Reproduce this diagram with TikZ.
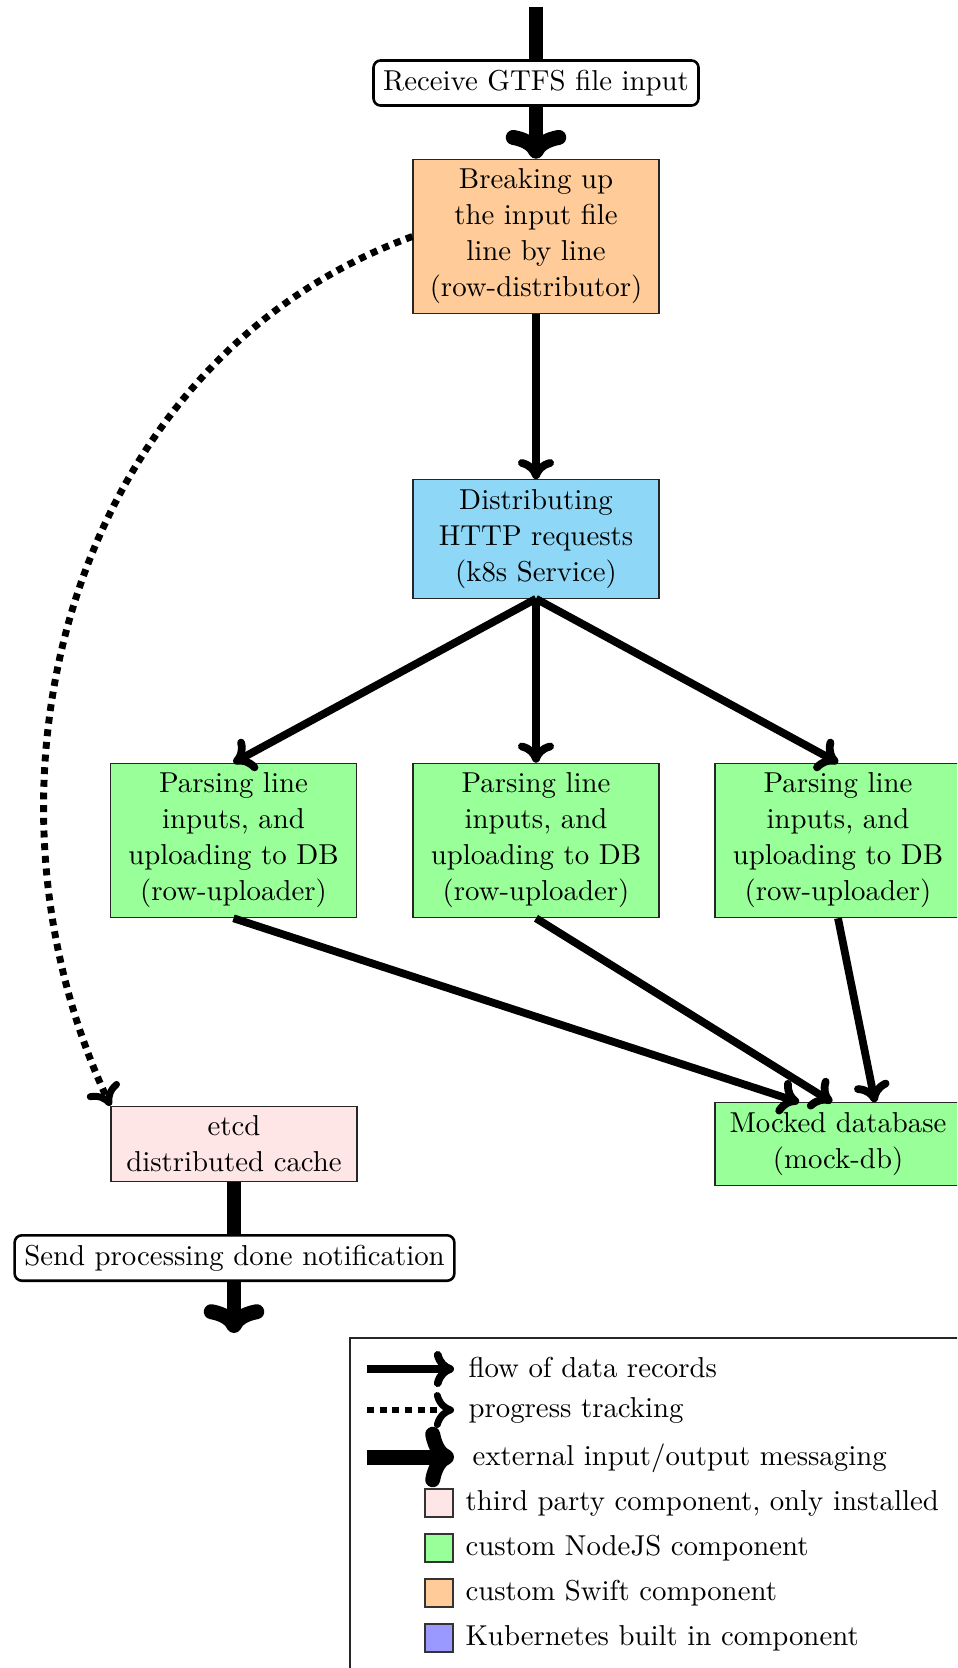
\documentclass[tikz,border=0pt]{standalone}
\usetikzlibrary{arrows.meta,calc}
\definecolor{swiftc}{RGB}{255,204,153}
\definecolor{k8sc}{RGB}{142,215,246}
\definecolor{nodec}{RGB}{153,255,153}
\definecolor{thirdc}{RGB}{255,230,230}
\definecolor{kubec}{RGB}{153,153,255}
\tikzset{
  box/.style={draw=black!85, line width=0.4pt, minimum width=85.4pt, align=center, inner sep=3.33pt,
    font=\fontsize{10}{12.5}\selectfont},
  io/.style={draw, fill=white, rounded corners=2.5pt, line width=0.9pt, inner sep=3.33pt,
    font=\fontsize{10}{12.5}\selectfont},
  flow/.style={line width=2.7pt, -{Computer Modern Rightarrow[length=7pt,width=12.5pt,round]}},
  prog/.style={line width=2.4pt, dash pattern=on 2.4pt off 2pt, -{Computer Modern Rightarrow[length=7pt,width=12.5pt,round]}},
  ext/.style={line width=5.2pt, -{Computer Modern Rightarrow[length=10pt,width=21pt,round]}},
  legtxt/.style={anchor=base west, inner sep=0pt, font=\fontsize{10}{12.5}\selectfont},
  legsq/.style={draw=black!80, line width=0.5pt, minimum width=9.6pt, minimum height=9.6pt, inner sep=0pt},
}
\begin{document}
\begin{tikzpicture}[x=0.3472pt, y=-0.3472pt]
\useasboundingbox (0,0) rectangle (957,1668);
\clip (0,0) rectangle (957,1668);

% component boxes
\node[box, fill=swiftc] (dist) at (536,236.5) {Breaking up\\the input file\\line by line\\(row-distributor)};
\node[box, fill=k8sc] (svc) at (536,539) {Distributing\\HTTP requests\\(k8s Service)};
\node[box, fill=nodec] (up1) at (233.5,840.5) {Parsing line\\inputs, and\\uploading to DB\\(row-uploader)};
\node[box, fill=nodec] (up2) at (536,840.5) {Parsing line\\inputs, and\\uploading to DB\\(row-uploader)};
\node[box, fill=nodec] (up3) at (838,840.5) {Parsing line\\inputs, and\\uploading to DB\\(row-uploader)};
\node[box, fill=nodec] (db) at (838,1144) {Mocked database\\(mock-db)};
\node[box, fill=thirdc] (etcd) at (234,1144) {etcd\\distributed cache};

% external in/out
\coordinate (extin) at (536,7);
\coordinate (extout) at (234,1333);
\draw[ext] (extin) -- (dist.north);
\node[io] (recv) at (536,83) {Receive GTFS file input};
\draw[ext] (etcd.south) -- (extout);
\node[io] (send) at (234.5,1258) {Send processing done notification};

% data flow
\draw[flow] (dist.south) -- (svc.north);
\draw[flow] (svc.south) -- (up1.north);
\draw[flow] (svc.south) -- (up2.north);
\draw[flow] (svc.south) -- (up3.north);
\coordinate (db1) at ($(db.north)+(-39,0)$);
\coordinate (db2) at ($(db.north)+(-6,0)$);
\coordinate (db3) at ($(db.north)+(37,0)$);
\draw[flow] (up1.south) -- (db1);
\draw[flow] (up2.south) -- (db2);
\draw[flow] (up3.south) -- (db3);

% progress tracking
\draw[prog] (dist.west) to[out=200,in=115] (etcd.north west);

% legend
\draw[line width=0.5pt, draw=black!85] (350,1338) rectangle (1000,1700);
\coordinate (la1) at (367,1369); \coordinate (lb1) at (454,1369);
\coordinate (la2) at (367,1410); \coordinate (lb2) at (454,1410);
\coordinate (la3) at (367,1457); \coordinate (lb3) at (454,1457);
\draw[flow] (la1) -- (lb1);
\draw[prog] (la2) -- (lb2);
\draw[ext] (la3) -- (lb3);
\node[legtxt] (t1) at (468,1377) {flow of data records};
\node[legtxt] (t2) at (468,1417) {progress tracking};
\node[legtxt] (t3) at (472,1465) {external input/output messaging};
\node[legsq, fill=thirdc] (s4) at (439,1503) {};
\node[legsq, fill=nodec] (s5) at (439,1548) {};
\node[legsq, fill=swiftc] (s6) at (439,1593) {};
\node[legsq, fill=kubec] (s7) at (439,1638) {};
\node[legtxt] (t4) at (465,1510) {third party component, only installed};
\node[legtxt] (t5) at (465,1555) {custom NodeJS component};
\node[legtxt] (t6) at (465,1600) {custom Swift component};
\node[legtxt] (t7) at (465,1645) {Kubernetes built in component};
\end{tikzpicture}
\end{document}
